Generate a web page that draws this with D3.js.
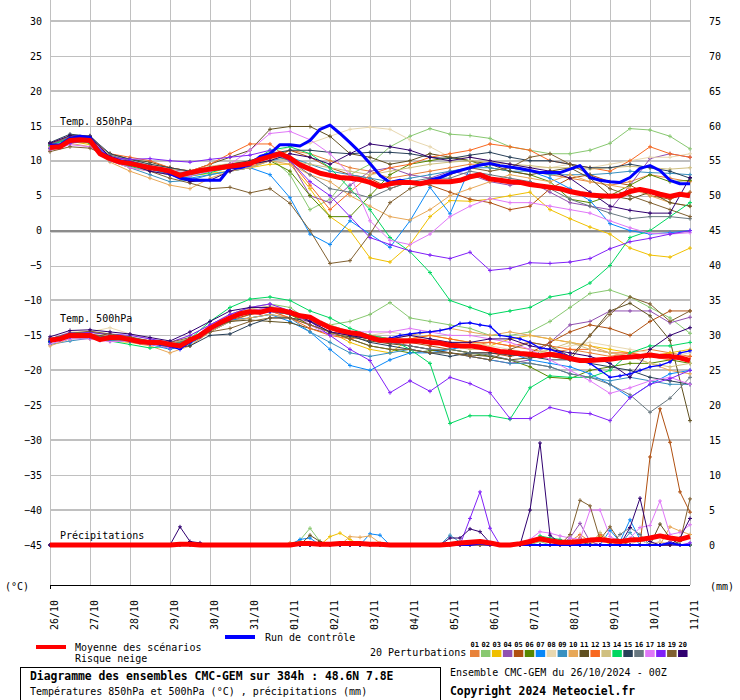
<!DOCTYPE html>
<html><head><meta charset="utf-8">
<script src="https://cdn.jsdelivr.net/npm/d3@7"></script>
<style>
body{margin:0;background:#fff}
svg text{font-family:"DejaVu Sans Mono",monospace;fill:#000}
</style></head>
<body><svg id="c" width="740" height="700"></svg>
<script>
// ---------- DATA ----------
const dates = ["26/10","27/10","28/10","29/10","30/10","31/10","01/11","02/11","03/11","04/11","05/11","06/11","07/11","08/11","09/11","10/11","11/11"];
const leftTicks = [30,25,20,15,10,5,0,-5,-10,-15,-20,-25,-30,-35,-40,-45];
const rightTicks = [75,70,65,60,55,50,45,40,35,30,25,20,15,10,5,0];
const memberIds = ["01","02","03","04","05","06","07","08","09","10","11","12","13","14","15","16","17","18","19","20"];
const memberColors = ["#E8823A","#88C870","#F0C000","#9050B0","#B05010","#588800","#0888F8","#E8D8B0","#3890C0","#E8A858","#605020","#F86820","#D0C080","#00D860","#284058","#687880","#E078F8","#8020F8","#806030","#300070"];

// 6-hourly ensemble mean and control run
const mean850 = [11.9,12.0,12.9,13.0,12.9,11.0,10.3,9.8,9.6,9.3,9.0,8.8,8.5,7.9,8.3,8.6,8.8,9.0,9.2,9.4,9.6,10.2,10.6,11.0,10.4,9.4,8.8,8.2,7.9,7.6,7.5,7.3,6.9,6.3,6.7,6.9,6.9,6.7,7.0,7.0,7.0,7.2,7.7,8.0,7.4,7.2,7.0,6.9,6.6,6.4,6.2,6.0,5.6,5.3,5.1,5.0,4.9,5.0,5.6,5.9,5.6,5.2,4.9,5.2,5.0];
const control850 = [12.2,12.3,13.2,13.5,13.3,11.2,10.5,10.0,9.8,9.4,9.0,8.8,8.2,7.5,7.3,7.2,7.2,7.2,9.0,9.0,9.4,10.6,11.0,12.3,12.3,12.1,12.9,14.5,15.1,13.9,12.6,11.2,9.6,7.9,6.9,7.2,6.9,6.7,7.2,7.6,8.2,8.6,9.0,9.4,9.6,9.3,9.1,8.9,8.6,8.3,8.3,8.3,8.8,9.3,7.6,7.2,7.0,6.9,7.6,8.9,9.3,8.6,7.2,6.7,6.7];
const mean500 = [-15.7,-15.5,-15.0,-15.0,-15.0,-15.6,-15.3,-15.3,-15.6,-15.9,-16.0,-16.0,-16.3,-16.5,-15.7,-15.0,-14.0,-13.2,-12.5,-11.9,-11.6,-11.7,-11.3,-11.4,-11.7,-12.2,-12.4,-13.2,-13.9,-14.3,-14.6,-14.8,-15.3,-15.7,-15.7,-15.8,-15.8,-15.8,-16.0,-16.1,-16.4,-16.5,-16.5,-16.7,-17.0,-17.3,-17.4,-17.6,-17.7,-17.9,-17.7,-17.9,-18.3,-18.6,-18.6,-18.5,-18.4,-18.2,-18.1,-18.0,-17.8,-18.0,-18.0,-18.2,-18.6];
const control500 = [-15.9,-15.6,-15.2,-15.1,-15.2,-15.7,-15.5,-15.4,-15.8,-16.0,-16.2,-16.3,-16.6,-17.0,-16.0,-15.2,-14.2,-13.3,-12.6,-12.0,-11.8,-11.8,-11.6,-11.6,-11.9,-12.3,-12.6,-13.4,-14.0,-14.5,-14.8,-15.0,-15.4,-15.6,-15.4,-15.0,-14.8,-14.6,-14.5,-14.3,-14.0,-13.3,-13.2,-13.5,-13.7,-15.0,-15.2,-15.5,-16.0,-16.8,-17.0,-17.5,-18.0,-18.5,-19.0,-20.0,-21.0,-20.8,-20.5,-20.0,-19.5,-19.3,-18.8,-17.5,-17.2];
const meanPrecip = [0,0,0,0,0,0,0,0,0,0,0,0,0,0.1,0.1,0,0,0,0,0,0,0,0,0,0,0.2,0.2,0.1,0.1,0.2,0.2,0.2,0.1,0.1,0,0,0,0,0,0,0.1,0.3,0.4,0.5,0.3,0,0,0.2,0.5,0.9,0.6,0.4,0.4,0.5,0.7,0.8,0.6,0.5,0.7,0.8,1.0,1.3,1.0,0.8,1.2];
const controlPrecip = [0,0,0,0,0,0,0,0,0,0,0,0,0,0,0,0,0,0,0,0,0,0,0,0,0,0,0,0,0,0,0,0,0,0,0,0,0,0,0,0,0,0,0,0.2,0,0,0,0,0,0,0,0,0,0,0,0,0,0,0,0,0,0,0.3,0,0];

// 12-hourly temperature 850 hPa for perturbations 01..20
const t850 = [
[12.0,13.0,12.5,10.8,10.0,9.0,8.0,7.8,8.5,9.0,9.2,10.0,11.5,11.0,10.0,9.0,8.5,7.5,8.0,8.5,9.0,9.5,9.5,9.0,8.5,8.0,7.5,7.0,6.5,7.0,8.0,7.5,7.0],
[11.8,12.5,13.0,10.5,9.5,9.0,8.8,8.5,9.0,9.5,9.8,10.5,8.0,3.0,4.5,8.0,9.5,12.0,13.5,14.6,13.8,13.6,13.2,12.0,11.5,11.0,11.0,11.5,12.5,14.6,14.4,13.5,11.7],
[11.5,12.8,12.3,10.0,9.0,8.5,8.0,7.8,8.2,8.5,9.0,9.5,9.5,6.0,2.0,0.0,-3.9,-4.5,-2.0,2.0,4.3,4.2,4.5,5.0,5.5,3.0,1.7,0.5,-0.5,-2.5,-3.5,-3.8,-2.5],
[12.2,13.2,13.0,10.5,9.8,9.2,8.8,8.4,8.9,9.4,10.0,11.0,10.0,5.0,4.0,6.5,8.5,9.0,8.0,7.5,8.5,8.0,7.0,6.5,7.0,5.5,4.0,3.5,3.0,6.5,10.3,11.0,10.5],
[12.0,12.7,12.8,10.2,9.5,8.8,8.2,8.0,8.7,9.0,9.5,10.5,11.5,10.5,9.0,8.0,7.5,6.0,7.0,6.5,5.5,4.5,4.0,3.0,3.5,6.0,7.5,8.0,7.0,6.5,5.0,4.5,5.5],
[11.7,12.6,12.7,10.1,9.3,8.8,8.3,8.0,8.5,9.0,9.5,10.0,8.5,5.0,2.0,2.0,5.0,8.0,9.5,10.0,10.5,10.0,9.0,8.5,8.0,7.0,4.5,4.0,5.0,6.5,8.0,7.0,7.2],
[12.4,13.3,12.8,10.5,9.6,8.8,8.0,7.5,8.0,8.5,9.0,8.0,4.7,-0.5,-2.0,1.4,-0.5,-2.4,1.4,6.2,2.4,9.0,9.5,9.0,8.5,7.5,6.0,4.3,1.0,0.0,-0.5,-0.3,0.0],
[12.0,13.0,13.3,10.8,10.0,9.5,9.0,8.5,9.0,9.5,10.0,11.0,12.0,12.5,13.5,14.5,14.8,14.5,13.0,12.0,10.5,10.5,10.0,9.5,9.0,9.0,9.5,9.0,9.5,10.0,10.5,10.5,11.0],
[12.5,13.0,12.8,10.0,9.0,8.0,7.0,7.2,8.0,8.5,9.0,10.0,10.5,9.5,8.5,8.0,7.5,7.0,7.5,8.0,8.5,9.0,9.0,8.5,8.5,8.0,8.0,8.0,8.2,8.5,8.3,8.2,8.0],
[12.0,12.5,12.0,9.8,8.5,7.5,6.5,6.0,7.5,8.5,9.0,10.0,9.5,8.0,7.0,5.0,3.5,2.0,1.5,3.0,5.0,6.0,7.0,8.0,7.5,7.0,8.0,7.0,6.5,6.0,5.0,4.0,3.5],
[12.3,13.5,13.2,11.0,10.2,9.8,9.0,8.5,9.5,10.5,11.5,14.5,14.9,14.9,13.5,11.0,10.5,9.5,10.0,11.0,10.5,10.0,9.5,8.5,8.0,8.5,9.0,7.5,5.0,4.5,5.5,4.0,3.5],
[12.5,13.5,13.0,11.0,10.5,10.0,9.0,8.5,9.5,11.0,12.4,12.4,10.0,6.5,3.0,5.5,8.0,9.0,9.5,10.5,11.0,11.5,12.4,12.0,11.5,10.0,9.5,9.0,8.5,10.0,12.0,11.0,10.5],
[11.9,12.8,12.6,10.2,9.7,9.3,8.8,8.6,9.2,9.6,10.0,10.5,10.0,9.5,9.0,8.5,8.0,8.5,9.0,9.5,9.8,10.0,9.8,9.5,9.3,9.0,9.0,8.8,9.0,9.2,9.0,8.8,9.0],
[12.2,13.2,12.5,10.0,9.2,8.5,8.0,7.8,8.3,9.0,9.6,11.5,12.0,11.0,9.0,6.0,3.0,-1.0,-3.0,-6.0,-10.0,-11.0,-12.0,-11.5,-11.0,-9.5,-9.0,-7.5,-5.0,-1.0,0.0,2.0,4.0],
[12.6,13.8,13.5,11.0,10.2,9.5,9.0,8.5,9.0,9.5,10.0,11.0,11.5,11.5,11.2,11.0,11.2,11.2,11.0,10.5,10.3,10.8,11.2,10.5,10.0,10.0,9.5,9.0,9.0,9.5,9.0,8.5,7.5],
[12.3,13.4,13.6,10.8,10.0,9.3,8.5,8.2,8.8,9.0,9.5,11.0,10.0,8.0,6.0,5.5,4.7,6.0,7.0,7.5,7.5,8.5,8.0,7.5,7.0,6.0,4.5,3.5,2.5,1.7,2.0,2.0,1.7],
[11.5,12.3,12.0,10.0,9.0,8.5,8.0,7.8,8.5,9.5,11.5,13.9,14.2,13.0,11.0,8.0,1.4,-1.4,-2.0,-0.5,2.0,3.5,4.6,4.0,4.0,3.5,3.0,2.5,1.4,0.4,-0.4,-0.5,-0.3],
[11.8,12.5,13.0,10.5,10.2,10.3,10.0,9.8,10.2,10.5,10.8,11.5,10.0,7.0,5.0,2.0,-1.0,-2.0,-2.9,-3.5,-4.0,-3.1,-5.7,-5.4,-4.6,-4.7,-4.5,-4.0,-2.6,-1.6,-1.1,-0.5,0.0],
[11.3,12.0,11.8,10.5,9.5,8.5,7.5,6.8,6.0,6.2,5.4,6.0,3.9,0.0,-4.7,-4.3,-0.5,4.0,6.0,7.0,8.0,9.0,8.5,9.0,10.5,11.0,9.5,8.0,6.0,5.0,4.0,3.0,2.0],
[12.5,13.6,13.5,10.5,9.5,8.5,8.0,7.0,7.2,8.5,9.5,10.0,11.0,10.5,9.5,11.0,12.4,12.0,11.5,10.5,10.0,10.5,10.0,9.5,9.0,8.5,7.5,5.5,3.5,2.9,2.5,2.5,7.6]
];

// 12-hourly temperature 500 hPa for perturbations 01..20
const t500 = [
[-15.5,-14.8,-15.2,-15.5,-15.8,-16.2,-16.8,-16.5,-14.5,-13.0,-12.0,-11.5,-12.5,-13.5,-14.5,-15.0,-15.5,-16.0,-15.5,-15.8,-16.0,-16.5,-16.0,-16.5,-17.0,-17.5,-17.0,-17.5,-18.0,-17.5,-17.0,-17.5,-18.0],
[-15.8,-15.2,-15.0,-15.4,-15.5,-16.0,-16.5,-16.0,-13.5,-12.0,-11.0,-10.5,-11.0,-13.0,-13.5,-13.0,-12.0,-10.3,-12.5,-13.0,-13.5,-14.0,-15.0,-15.0,-14.5,-13.0,-11.0,-9.0,-8.5,-9.5,-11.0,-12.5,-14.7],
[-15.6,-15.2,-15.5,-15.8,-16.0,-16.2,-16.8,-16.0,-14.5,-12.8,-11.5,-11.0,-12.0,-13.5,-14.5,-16.0,-17.0,-17.5,-15.5,-15.0,-15.5,-16.0,-16.5,-15.5,-15.0,-15.5,-16.0,-16.5,-17.0,-17.5,-18.0,-17.5,-17.0],
[-15.9,-15.3,-15.2,-15.6,-15.7,-16.0,-16.4,-15.5,-13.8,-12.3,-11.5,-11.0,-11.8,-12.5,-14.0,-14.8,-15.5,-16.0,-16.5,-17.0,-17.5,-18.0,-18.5,-19.0,-18.5,-16.0,-13.5,-13.0,-11.5,-11.5,-11.5,-13.2,-12.4],
[-15.6,-14.9,-14.8,-15.2,-15.5,-16.1,-16.5,-15.8,-14.2,-12.8,-12.0,-11.5,-12.0,-13.0,-14.5,-15.0,-15.5,-16.0,-16.0,-16.5,-17.0,-17.5,-17.5,-18.0,-17.5,-16.0,-14.5,-13.5,-14.0,-15.0,-13.0,-11.5,-11.5],
[-15.7,-15.0,-15.1,-15.4,-15.6,-16.2,-16.6,-15.9,-14.0,-12.5,-11.8,-11.5,-12.0,-13.5,-14.5,-15.5,-16.5,-17.0,-17.5,-17.2,-17.0,-17.5,-18.0,-18.5,-19.5,-21.0,-21.2,-20.0,-19.5,-19.0,-19.0,-18.5,-19.0],
[-15.8,-15.4,-15.4,-15.7,-15.9,-16.3,-17.0,-16.2,-14.5,-12.8,-12.5,-12.0,-13.0,-14.5,-17.0,-19.3,-20.0,-18.5,-17.5,-17.5,-17.0,-16.5,-17.0,-17.5,-18.5,-19.0,-19.5,-20.5,-22.0,-23.9,-22.0,-20.5,-20.0],
[-15.5,-14.5,-14.5,-13.9,-14.8,-15.5,-16.0,-15.0,-13.5,-12.0,-11.0,-10.5,-11.5,-12.5,-13.5,-14.5,-15.0,-14.5,-15.0,-15.5,-16.0,-16.0,-16.5,-17.0,-17.5,-17.0,-16.5,-16.0,-16.5,-17.0,-17.5,-18.0,-17.5],
[-16.3,-15.8,-15.4,-15.7,-15.8,-16.1,-16.5,-15.9,-14.5,-13.0,-12.5,-12.0,-12.5,-14.5,-16.0,-17.5,-18.0,-17.5,-17.0,-17.5,-17.5,-18.0,-18.5,-19.0,-19.0,-19.5,-20.5,-21.0,-21.5,-21.0,-21.5,-22.0,-22.0],
[-16.5,-15.5,-15.3,-15.5,-16.0,-16.5,-17.5,-16.5,-14.5,-13.0,-12.5,-12.0,-12.5,-13.0,-14.0,-14.5,-15.0,-15.5,-15.0,-14.5,-14.0,-14.5,-15.0,-14.5,-15.0,-15.5,-16.0,-16.5,-17.5,-18.0,-19.0,-20.0,-20.5],
[-15.7,-14.8,-14.5,-15.0,-15.3,-15.8,-16.2,-15.5,-14.0,-13.0,-12.8,-13.0,-13.2,-14.0,-14.8,-15.2,-15.8,-16.2,-16.5,-17.0,-17.5,-17.8,-18.0,-18.5,-18.2,-18.0,-18.5,-15.0,-11.5,-10.4,-12.2,-15.7,-27.2],
[-15.6,-15.0,-15.2,-15.5,-15.7,-16.1,-16.4,-15.8,-14.2,-12.5,-11.7,-11.5,-12.5,-14.0,-15.0,-15.5,-15.0,-15.5,-15.5,-15.0,-15.5,-16.0,-16.0,-16.5,-16.0,-16.5,-17.0,-17.0,-17.5,-17.5,-18.0,-18.5,-18.0],
[-15.4,-14.9,-15.0,-15.3,-15.5,-15.9,-16.2,-15.5,-13.8,-12.2,-11.2,-10.8,-11.5,-12.5,-13.5,-14.5,-15.0,-15.5,-16.0,-16.0,-16.5,-17.0,-17.0,-17.5,-18.0,-17.0,-16.0,-17.0,-17.5,-18.0,-19.0,-19.5,-19.0],
[-16.0,-15.2,-15.3,-15.8,-16.3,-16.8,-16.5,-15.5,-13.0,-11.0,-9.8,-9.5,-10.0,-11.5,-12.5,-14.0,-15.0,-15.5,-17.0,-19.0,-27.6,-26.5,-26.5,-27.0,-22.5,-20.8,-21.0,-21.0,-20.0,-17.5,-16.5,-16.5,-16.0],
[-15.9,-15.1,-15.0,-15.2,-15.5,-16.2,-16.8,-16.5,-15.0,-14.8,-13.5,-12.5,-12.5,-13.0,-14.0,-15.0,-16.0,-16.5,-17.0,-17.5,-18.0,-17.5,-17.5,-17.8,-18.0,-18.5,-18.5,-19.0,-19.5,-20.0,-21.0,-21.5,-22.0],
[-15.8,-15.3,-15.4,-15.6,-15.8,-16.2,-16.3,-15.6,-14.0,-12.5,-11.8,-11.5,-12.0,-13.0,-14.0,-15.0,-15.5,-16.0,-16.5,-17.0,-17.0,-17.5,-17.8,-18.5,-19.0,-19.5,-20.5,-21.0,-22.0,-23.5,-26.0,-24.0,-21.0],
[-16.2,-15.5,-15.5,-15.9,-15.8,-16.3,-16.8,-15.8,-13.5,-12.0,-11.5,-11.0,-11.5,-13.5,-15.0,-14.5,-14.5,-14.5,-14.0,-14.5,-15.0,-15.0,-15.5,-16.0,-17.0,-18.5,-20.0,-21.5,-23.3,-22.5,-21.5,-21.0,-22.0],
[-15.5,-14.6,-14.6,-14.8,-15.0,-15.5,-16.0,-15.0,-13.5,-12.0,-11.0,-10.5,-11.5,-13.0,-15.0,-17.0,-18.6,-23.2,-21.5,-23.0,-21.0,-21.9,-23.2,-26.9,-26.9,-25.3,-26.0,-26.2,-27.2,-23.9,-22.0,-21.2,-20.0],
[-15.5,-14.7,-14.4,-14.8,-15.2,-15.8,-16.0,-15.3,-14.5,-14.0,-13.0,-12.5,-12.5,-13.5,-14.5,-15.5,-16.5,-17.0,-17.0,-17.5,-17.5,-18.0,-18.5,-17.0,-16.0,-16.5,-18.0,-15.0,-12.0,-9.5,-10.5,-13.0,-11.5],
[-15.2,-14.3,-14.2,-14.5,-14.8,-15.3,-15.8,-14.5,-13.0,-11.5,-11.0,-11.0,-11.5,-13.0,-14.5,-15.0,-15.5,-15.5,-15.0,-15.5,-16.0,-16.0,-15.5,-15.5,-16.5,-17.0,-17.5,-18.0,-19.0,-21.0,-17.0,-15.0,-13.9]
];

// 6-hourly precipitation (mm) for perturbations 01..20
const precip = [
[0,0,0,0,0,0,0,0,0,0,0,0,0, 0,0,0,0,0,0,0,0,0,0,0,0.3,0.5, 0.3,0,0,0,0,0,0,0,0,0,0,0,0, 0,0,0,0,0,0,0,0,0,0,0,0,0, 0.5,1.5,0.5,0,0,0,0,0,0,0.5,0,0,0],
[0,0,0,0,0,0,0,0,0,0,0,0,0, 0,0,0,0,0,0,0,0,0,0,0,0,0.7, 2.4,0.5,0,0,0,0,0,0,0,0,0,0,0, 0,0,0,0,0,0,0,0,0,0,0.5,0,0, 0,0,0,0,0,0,0,0,0,0,0,0,0],
[0,0,0,0,0,0,0,0,0,0,0,0,0, 0,0,0,0,0,0,0,0,0,0,0,0,0, 0,0,1.2,1.7,0.8,0,0,0,0,0,0,0,0, 0,0,0,0,0,0,0,0,0,0,0,0,0, 0,0,0,1.2,0,0,0,0,0,0,0,0,0],
[0,0,0,0,0,0,0,0,0,0,0,0,0, 0,0,0,0,0,0,0,0,0,0,0,0,0, 0,0,0,0,0,0,0,0,0,0,0,0,0, 0,0,0,0,0,0,0,0,0,0,0,0,0, 1.0,3.1,0.5,0,0,0,0,0,0,0,0.5,0,0],
[0,0,0,0,0,0,0,0,0,0,0,0,0, 0,0,0,0,0,0,0,0,0,0,0,0,0, 0,0,0,0,0,0,0,0,0,0,0,0,0, 0,0,0,0,0,0,0,0,0,0,0,0,0, 0,1.0,0,0,0,0,0,0,12.6,19.5,14.7,7.6,4.7],
[0,0,0,0,0,0,0,0,0,0,0,0,0, 0,0,0,0,0,0,0,0,0,0,0,0,0, 0,0.3,0,0,0,0,0,0,0,0,0,0,0, 0,0,0.3,0,0,0,0,0,0,0,0,0,0, 0,0,0,0,0,0,0,0,0,0,0,0,0],
[0,0,0,0,0,0,0,0,0,0,0,0,0, 0,0,0,0,0,0,0,0,0,0,0,0,0.8, 1.0,0,0,0,0,0,1.6,1.4,0,0,0,0,0, 0,0,0,0,0,0,0,0,0,0,0,0,0, 0,0,0,0,2.1,0.5,3.6,0.8,0,0,0,0,0],
[0,0,0,0,0,0,0,0,0,0,0,0,0, 0,0,0,0,0,0,0,0,0,0,0,0,0, 0,0,0,0,0,0,0,0,0,0,0,0,0, 0,0,0,0,0,0,0,0,0,0,0,0,0, 0,0,0,0,0,0,0,0.8,0,0.5,0,0,0],
[0,0,0,0,0,0,0,0,0,0,0,0,0, 0,0,0,0,0,0,0,0,0,0,0,0,0, 0,0,0,0,0,0,0,0,0,0,0,0,0, 0,1.4,0.4,0,0,0,0,0,0,0,0,0,0, 0,0,0,0,0,0,1.8,0,0,0,0,0,0],
[0,0,0,0,0,0,0,0,0,0,0,0,0, 0,0,0,0,0,0,0,0,0,0,0,0,0, 0,0,0,0,1.2,1.1,1.3,0.3,0,0,0,0,0, 0,0,0,0,0,0,0,0,0,0,0,0,0, 0,0,0,0,0,0,0,0,0,0,2.6,2.0,1.5],
[0,0,0,0,0,0,0,0,0,0,0,0,0, 0,0,0,0,0,0,0,0,0,0,0,0,0, 1.4,0.5,0,0,0,0,0,0,0,0,0,0,0, 0,0,0,0,0,0,0,0,0,0,0,0,0, 0,0,0,0,0,0,0,0,0,3.0,1.0,0,0],
[0,0,0,0,0,0,0,0,0,0,0,0,0, 0,0,0,0,0,0,0,0,0,0,0,0,0, 0,0,0,0,0,0,0,0,0,0,0,0,0, 0,0,0,0,0,0,0,0,0,0,0,0,0, 0,0,0,1.5,0.5,0,0,0,0,0,0,0,0],
[0,0,0,0,0,0,0,0,0,0,0,0,0, 0,0,0,0,0,0,0,0,0,0,0,0,0, 0,0,0,0,0,0,0,0,0,0,0,0,0, 0,0,0,0,0,0,0,0,0,0,0,0,0, 0,0,0,1.8,0.6,0,0,0,0,0,0,0,0],
[0,0,0,0,0,0,0,0,0,0,0,0,0, 0,0,0,0,0,0,0,0,0,0,0,0,0, 0,0,0,0,0,0,0,0,0,0,0,0,0, 0,0,0,0,0,0,0,0,0,0,1.3,1.0,0.8, 0.3,0,0,0,0,0,0,0,0,0,0,0,0],
[0,0,0,0,0,0,0,0,0,0,0,0,0, 0,0,0,0,0,0,0,0,0,0,0,0,0, 0,0,0,0,0,0,0,0,0,0,0,0,0, 0,0,0,0,0,0,0,0,0,0,0,0,0, 0,0.5,0,0,0,0,0,0,0,0,0,0,0],
[0,0,0,0,0,0,0,0,0,0,0,0,0, 0,0,0,0,0,0,0,0,0,0,0,0,0, 0,0,0,0,0,0,0,0,0,0,0,0,0, 0,0,0,0,0,0,0,0,0,0,0,0,0, 0,0,0,0,0,1.5,2.5,1.5,0,0,0,0,0],
[0,0,0,0,0,0,0,0,0,0,0,0,0, 0,0,0,0,0,0,0,0,0,0,0,0,0, 0,0,0,0,0,0,0,0,0,0,0,0,0, 0,0,0,0,0,0,0,0,0,0.8,1.9,1.7,1.3, 1.0,0.8,5.0,5.0,1.2,0.5,1.0,2.5,2.8,6.3,1.5,1.8,2.9],
[0,0,0,0,0,0,0,0,0,0,0,0,0, 0,0,0,0,0,0,0,0,0,0,0,0,0, 0,0,0,0,0,0,0,0,0,0,0,0,0, 0,0,0,3.8,7.6,2.4,0,0,0,0,0,0,0, 0,0,0,0,0,0,0,0,0,0,0,0,0.3],
[0,0,0,0,0,0,0,0,0,0,0,0,0, 0,0,0,0,0,0,0,0,0,0,0,0,0, 0,0,0,0,0,0,0,0,0,0,0,0,0, 0,0,0,0,0,0,0,0,0,0,0,0,0, 1.5,6.4,5.6,0.8,2.6,0.5,0,0,0,0,0,0.5,6.6],
[0,0,0,0,0,0,0,0,0,0,0,0,0, 2.6,0.5,0.3,0,0,0,0,0,0,0,0,0,0, 0,0,0,0,0,0,0,0,0,0,0,0,0, 0,1.0,1.0,2.3,1.9,0.3,0,0,0,5.0,14.6,1.4,0.3, 0,0,0,0,0,0,2.5,6.7,0.5,0,0,1.0,3.8]
];

// ---------- DRAW ----------
const svg = d3.select("#c");
const x = d3.scaleLinear().domain([0, 384]).range([50, 690]);
const y = d3.scaleLinear().domain([30, -45]).range([21, 545]);
const yR = d3.scaleLinear().domain([75, 0]).range([21, 545]);
const PLOT_BOTTOM = 585;
const hourOf = (i, n) => i * 384 / (n - 1);

// grid
const grid = svg.append("g");
grid.selectAll("line.v").data(dates).join("line")
  .attr("x1", (d, i) => Math.round(x(i * 24)) + 0.5).attr("x2", (d, i) => Math.round(x(i * 24)) + 0.5)
  .attr("y1", 0).attr("y2", PLOT_BOTTOM).attr("stroke", "#c0c0c0").attr("stroke-width", 1);
grid.selectAll("line.h").data(leftTicks.filter(v => v !== 0)).join("line")
  .attr("x1", 50).attr("x2", 690)
  .attr("y1", v => v % 10 === 0 ? Math.round(y(v)) : Math.round(y(v)) + 0.5)
  .attr("y2", v => v % 10 === 0 ? Math.round(y(v)) : Math.round(y(v)) + 0.5)
  .attr("stroke", "#c0c0c0").attr("stroke-width", v => v % 10 === 0 ? 2 : 1);
grid.append("line").attr("x1", 50).attr("x2", 690).attr("y1", Math.round(y(0))).attr("y2", Math.round(y(0)))
  .attr("stroke", "#8c8c8c").attr("stroke-width", 2);
grid.append("line").attr("x1", 50).attr("x2", 690).attr("y1", Math.round(y(0)) + 1.5).attr("y2", Math.round(y(0)) + 1.5)
  .attr("stroke", "#cfcfcf").attr("stroke-width", 1);

// base axis line
svg.append("line").attr("x1", 50).attr("x2", 690).attr("y1", PLOT_BOTTOM + 0.5).attr("y2", PLOT_BOTTOM + 0.5).attr("stroke", "#000");
svg.append("line").attr("x1", 50.5).attr("x2", 50.5).attr("y1", PLOT_BOTTOM).attr("y2", PLOT_BOTTOM + 4).attr("stroke", "#000");

// axes
const axL = svg.append("g").attr("transform", "translate(42,0)")
  .call(d3.axisLeft(y).tickValues(leftTicks).tickSize(0).tickPadding(0));
const axR = svg.append("g").attr("transform", "translate(709,0)")
  .call(d3.axisRight(yR).tickValues(rightTicks).tickSize(0).tickPadding(0));
[axL, axR].forEach(a => {
  a.select(".domain").remove();
  a.attr("font-family", "DejaVu Sans Mono").attr("font-size", 10);
  a.selectAll("text").attr("fill", "#000");
});

// date labels
svg.append("g").selectAll("text").data(dates).join("text")
  .attr("transform", (d, i) => `translate(${x(i * 24) + 8},600) rotate(-90)`)
  .attr("text-anchor", "end").attr("font-size", 10).text(d => d);

// series drawing
const plot = svg.append("g");
function drawSeries(values, offset, color, width, markers) {
  const n = values.length;
  const pts = values.map((v, i) => [x(hourOf(i, n)), y(v + offset)]);
  plot.append("path").attr("d", d3.line()(pts)).attr("fill", "none")
    .attr("stroke", color).attr("stroke-width", width).attr("stroke-linejoin", "round");
  if (markers) {
    plot.append("path").attr("d", pts.map(p => `M${p[0]-2},${p[1]}h4M${p[0]},${p[1]-2}v4`).join(""))
      .attr("stroke", color).attr("stroke-width", 1).attr("fill", "none");
  }
}
memberColors.forEach((c, k) => {
  drawSeries(t850[k], 0, c, 1, true);
  drawSeries(t500[k], 0, c, 1, true);
  drawSeries(precip[k], -45, c, 1, true);
});
drawSeries(control850, 0, "#0000ff", 3, false);
drawSeries(control500, 0, "#0000ff", 1.3, true);
drawSeries(controlPrecip, -45, "#0000ff", 2, false);
drawSeries(mean850, 0, "#ff0000", 5, false);
drawSeries(mean500, 0, "#ff0000", 5, false);
drawSeries(meanPrecip, -45, "#ff0000", 5, false);

// labels inside plot
const lab = svg.append("g").attr("font-size", 10);
lab.append("text").attr("x", 60).attr("y", 125).text("Temp. 850hPa");
lab.append("text").attr("x", 60).attr("y", 322).text("Temp. 500hPa");
lab.append("text").attr("x", 60).attr("y", 539).text("Précipitations");
lab.append("text").attr("x", 5).attr("y", 590).text("(°C)");
lab.append("text").attr("x", 710).attr("y", 590).text("(mm)");

// legend
svg.append("rect").attr("x", 36).attr("y", 645).attr("width", 30).attr("height", 4).attr("fill", "#ff0000");
lab.append("text").attr("x", 75).attr("y", 651).text("Moyenne des scénarios");
lab.append("text").attr("x", 75).attr("y", 662).text("Risque neige");
svg.append("rect").attr("x", 225).attr("y", 635).attr("width", 30).attr("height", 4).attr("fill", "#0000ff");
lab.append("text").attr("x", 265).attr("y", 641).text("Run de contrôle");
lab.append("text").attr("x", 370).attr("y", 656).text("20 Perturbations");
const sw = svg.append("g");
sw.selectAll("rect").data(memberColors).join("rect")
  .attr("x", (d, i) => 470 + i * 10.95).attr("y", 650).attr("width", 9.5).attr("height", 7).attr("fill", d => d);
sw.selectAll("text").data(memberIds).join("text")
  .attr("x", (d, i) => 470 + i * 10.95 + 4.75).attr("y", 647).attr("text-anchor", "middle")
  .attr("font-size", 7).attr("font-weight", "bold").text(d => d);

// footer
svg.append("rect").attr("x", 20.5).attr("y", 667.5).attr("width", 420).attr("height", 40)
  .attr("fill", "none").attr("stroke", "#000");
svg.append("text").attr("x", 30).attr("y", 680).attr("font-size", 11.4).attr("font-weight", "bold")
  .text("Diagramme des ensembles CMC-GEM sur 384h : 48.6N 7.8E");
svg.append("text").attr("x", 30).attr("y", 695).attr("font-size", 10)
  .text("Températures 850hPa et 500hPa (°C) , précipitations (mm)");
svg.append("text").attr("x", 450).attr("y", 676).attr("font-size", 10)
  .text("Ensemble CMC-GEM du 26/10/2024 - 00Z");
svg.append("text").attr("x", 450).attr("y", 695).attr("font-size", 11.4).attr("font-weight", "bold")
  .text("Copyright 2024 Meteociel.fr");
</script>
</body></html>
